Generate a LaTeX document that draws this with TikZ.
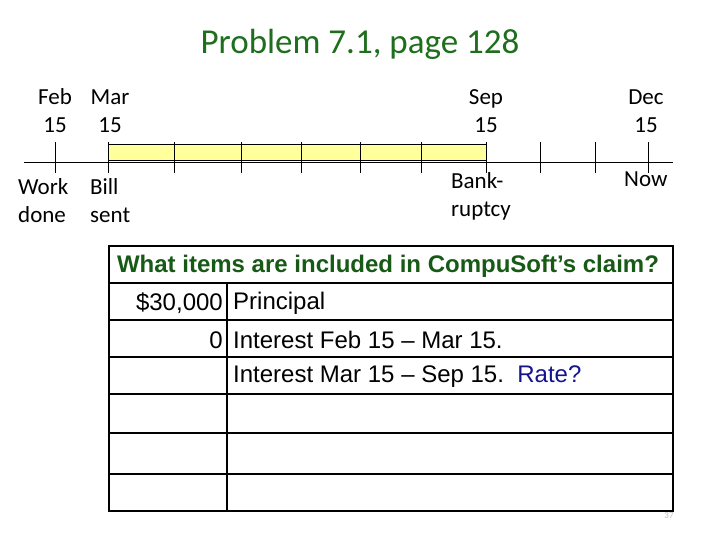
\documentclass[tikz,border=0pt]{standalone}
\usepackage{fontspec}
\setmainfont{Carlito}
\newfontfamily\arialfont{Liberation Sans}
\usepackage{tikz}
\usepackage{xcolor}
\usetikzlibrary{positioning}

\definecolor{titlegreen}{RGB}{30,110,30}
\definecolor{headgreen}{RGB}{22,90,22}
\definecolor{ratenavy}{RGB}{20,20,140}
\definecolor{barfill}{RGB}{255,255,155}

\newcommand{\topstrut}{\rule{0pt}{20pt}}

\tikzset{
  datelbl/.style={font=\fontsize{23}{28}\selectfont, align=center, anchor=north, inner sep=0pt},
  eventlbl/.style={font=\fontsize{23}{28}\selectfont, align=left, anchor=north west, inner sep=0pt},
  amountcell/.style={font=\arialfont\fontsize{24}{28}\selectfont, anchor=east, inner sep=0pt},
  itemcell/.style={font=\arialfont\fontsize{24}{28}\selectfont, anchor=west, inner sep=0pt},
}

\begin{document}
\begin{tikzpicture}[x=1pt,y=-1pt]
        \useasboundingbox (0,0) rectangle (720,540);

        % Title
        \node[text=titlegreen, font=\fontsize{35}{40}\selectfont] (title) at (360,44) {Problem 7.1, page 128};

        % Timeline with shaded period
        \fill[barfill] (108,144) rectangle (486,160);
        \draw[thick] (108,144) rectangle (486,160);
        \draw[thick] (24,162) -- (673,162);
        \foreach \x in {55,108,174,241,301,360,421,486,540,595,648}
            \draw[thick] (\x,142) -- (\x,173);

        % Dates
        \node[datelbl] (feb) at (55,84) {\topstrut Feb\\15};
        \node[datelbl] (mar) at (110,84) {\topstrut Mar\\15};
        \node[datelbl] (sep) at (486,84) {\topstrut Sep\\15};
        \node[datelbl] (dec) at (646,84) {\topstrut Dec\\15};

        % Events
        \node[eventlbl] (work) at (18,174) {\topstrut Work\\done};
        \node[eventlbl] (bill) at (90,174) {\topstrut Bill\\sent};
        \node[eventlbl] (bank) at (451,168) {\topstrut Bank-\\ruptcy};
        \node[eventlbl] (now) at (624,166) {\topstrut Now};

        % Claim table
        \foreach \y in {283,320,357,394,433,474}
            \draw[line width=1.2pt] (109,\y) -- (673,\y);
        \draw[line width=1.2pt] (227,283) -- (227,511);
        \draw[line width=2.6pt] (109,246) rectangle (673,511);

        \node[text=headgreen, font=\arialfont\bfseries\fontsize{24}{28}\selectfont] (head) at (388,266) {What items are included in CompuSoft’s claim?};
        \node[amountcell] (amt1) at (223,303) {\$30,000};
        \node[itemcell] (item1) at (233,303) {Principal};
        \node[amountcell] (amt2) at (223,340) {0};
        \node[itemcell] (item2) at (233,340) {Interest Feb 15 – Mar 15.};
        \node[itemcell] (item3) at (233,377) {Interest Mar 15 – Sep 15.\ \ {\color{ratenavy}Rate?}};

        % Slide number
        \node[text=gray!50, font=\fontsize{9}{10}\selectfont] (pageno) at (669,516) {37};
\end{tikzpicture}
\end{document}
